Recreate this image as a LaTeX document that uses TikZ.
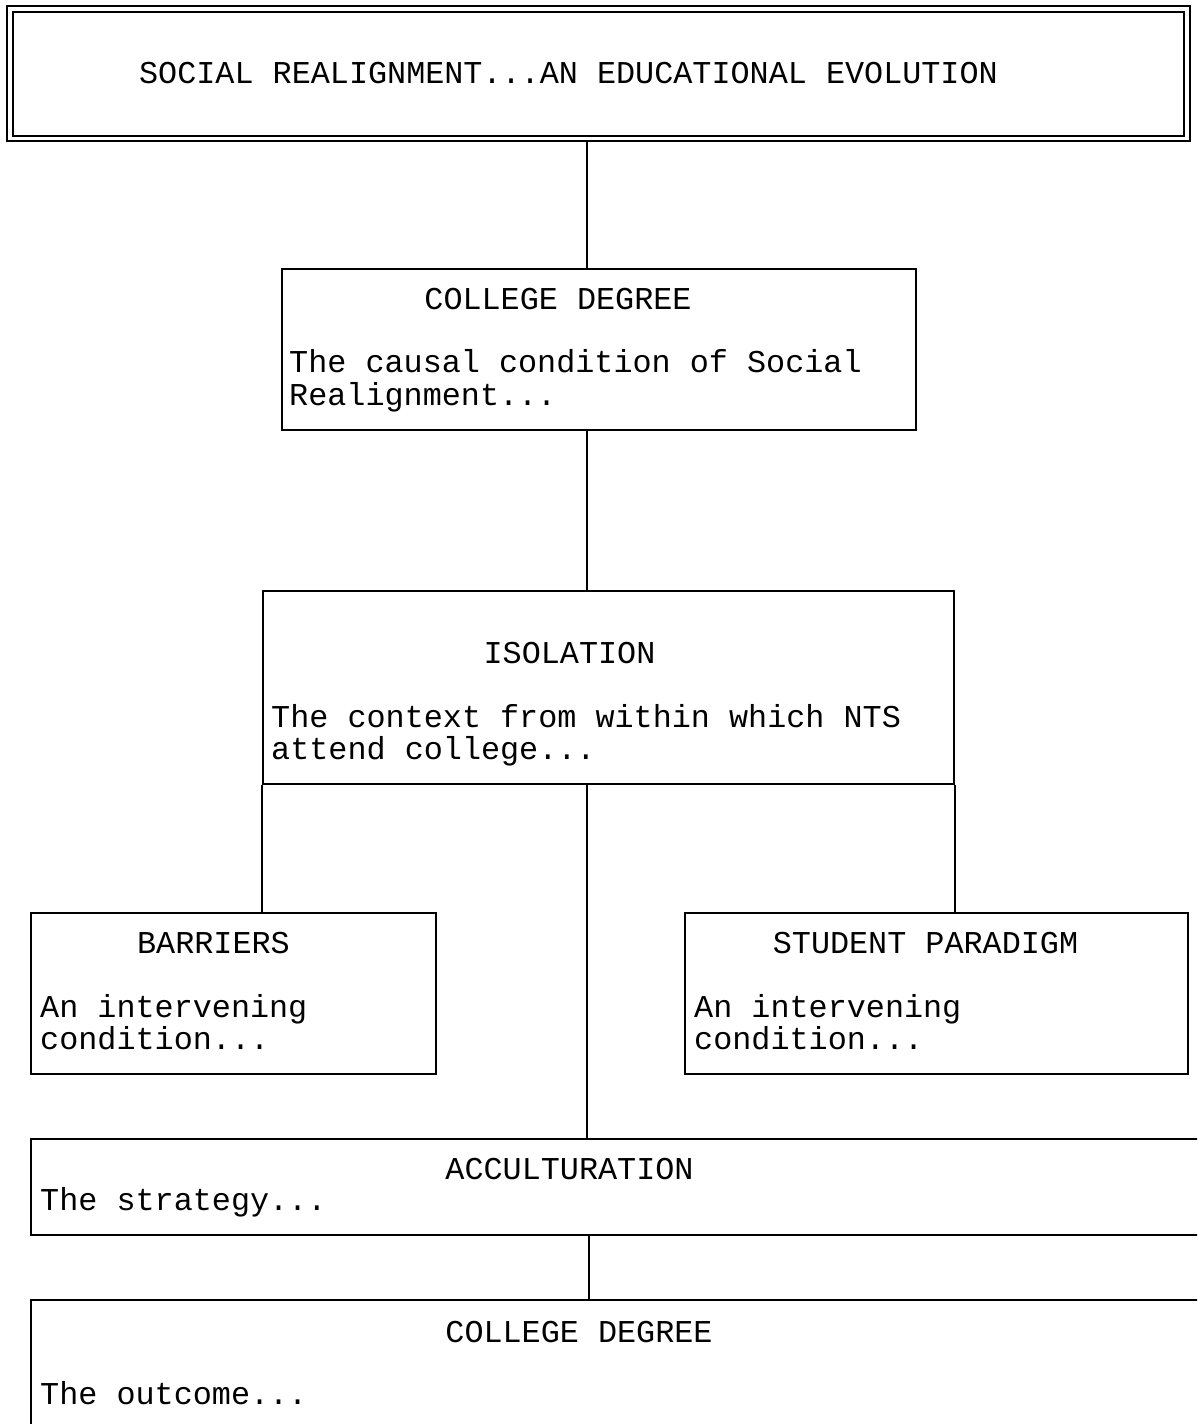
\documentclass[tikz,border=0pt]{standalone}
\usepackage{fontspec}
\setmainfont{Liberation Mono}
\begin{document}
\begin{tikzpicture}[x=1pt,y=-1pt,
 box/.style={draw, line width=1.8pt, rectangle, inner sep=0pt, anchor=north west},
 txt/.style={inner sep=0pt, anchor=base, font=\fontsize{31.8}{32}\selectfont},
 ltxt/.style={txt, anchor=base west},
 link/.style={draw, line width=1.8pt}]
\useasboundingbox (0,0) rectangle (1197,1424);
\clip (0,0) rectangle (1197,1424);
% boxes
\node[box, line width=1.5pt, minimum width=1183pt, minimum height=135pt] (topout) at (6,5) {};
\node[box, line width=2.4pt, minimum width=1171pt, minimum height=124pt] (top) at (12,11) {};
\node[box, minimum width=634pt, minimum height=161pt] (cd1) at (281,268) {};
\node[box, minimum width=691pt, minimum height=193pt] (iso) at (262,590) {};
\node[box, minimum width=405pt, minimum height=161pt] (bar) at (30,912) {};
\node[box, minimum width=503pt, minimum height=161pt] (stu) at (684,912) {};
\node[box, minimum width=1200pt, minimum height=96pt] (acc) at (30,1138) {};
\node[box, minimum width=1200pt, minimum height=220pt] (cd2) at (30,1299) {};
% texts
\node[txt] (toptxt) at (568.5,83) {SOCIAL REALIGNMENT...AN EDUCATIONAL EVOLUTION};
\node[txt] (cd1t) at (558,309) {COLLEGE DEGREE};
\node[ltxt] (cd1a) at (289,372) {The causal condition of Social};
\node[ltxt] (cd1b) at (289,405) {Realignment...};
\node[txt] (isot) at (569.5,663) {ISOLATION};
\node[ltxt] (isoa) at (271,727) {The context from within which NTS};
\node[ltxt] (isob) at (271,759) {attend college...};
\node[txt] (bart) at (213.5,953) {BARRIERS};
\node[ltxt] (bara) at (40,1017) {An intervening};
\node[ltxt] (barb) at (40,1049) {condition...};
\node[txt] (stut) at (925.5,953) {STUDENT PARADIGM};
\node[ltxt] (stua) at (694,1017) {An intervening};
\node[ltxt] (stub) at (694,1049) {condition...};
\node[txt] (acct) at (569.5,1179) {ACCULTURATION};
\node[ltxt] (acca) at (40,1210) {The strategy...};
\node[txt] (cd2t) at (579,1342) {COLLEGE DEGREE};
\node[ltxt] (cd2a) at (40,1404) {The outcome...};
% connectors
\coordinate (spine) at (587,0);
\coordinate (spineb) at (589,0);
\draw[link] (topout.south -| spine) -- (cd1.north -| spine);
\draw[link] (cd1.south -| spine) -- (iso.north -| spine);
\draw[link] (iso.south -| spine) -- (acc.north -| spine);
\draw[link] (iso.south west) -- (iso.south west |- bar.north);
\draw[link] (iso.south east) -- (iso.south east |- stu.north);
\draw[link] (acc.south -| spineb) -- (cd2.north -| spineb);
\end{tikzpicture}
\end{document}
